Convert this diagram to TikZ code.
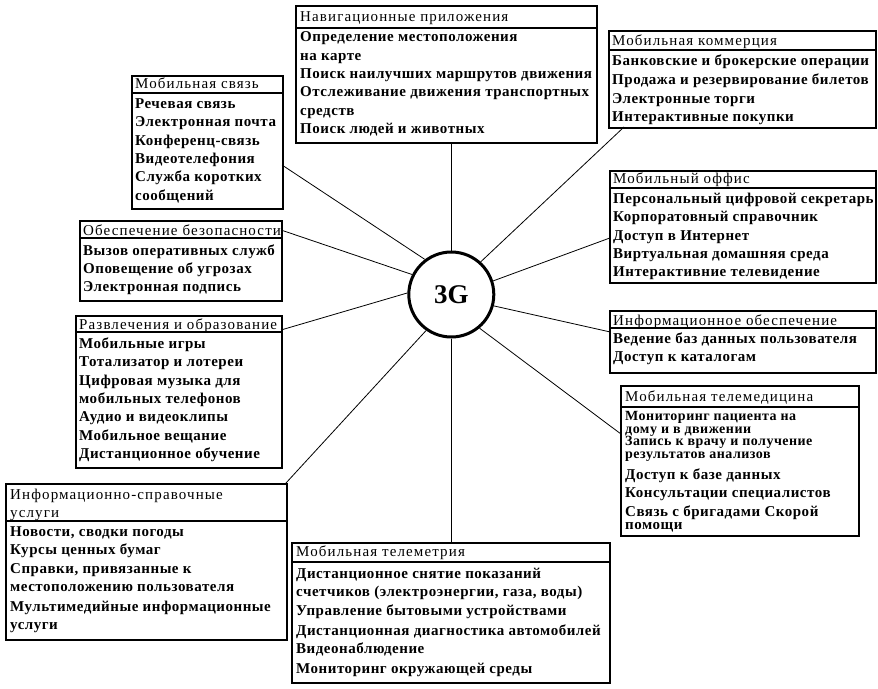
\documentclass[tikz,border=0pt]{standalone}
\usepackage{fontspec}
\setmainfont{Liberation Serif}
\newfontfamily\hdrfont[LetterSpace=7.5]{Liberation Serif}
\newfontfamily\itmfont[LetterSpace=3.5]{Liberation Serif Bold}
\begin{document}
\begin{tikzpicture}[x=1pt,y=-1pt,
  frame/.style={draw,line width=2pt,inner sep=0pt,anchor=north west},
  sepline/.style={line width=2pt},
  hdr/.style={anchor=base west,inner sep=0pt,font=\fontsize{15}{18}\hdrfont},
  itm/.style={anchor=base west,inner sep=0pt,font=\fontsize{15}{18}\itmfont},
  itms/.style={anchor=base west,inner sep=0pt,font=\fontsize{14}{14}\itmfont},
  conn/.style={line width=0.8pt},
  hubst/.style={circle,draw,line width=3pt,minimum size=85pt,inner sep=0pt,font=\fontsize{27}{30}\selectfont\bfseries}]
\useasboundingbox (0,0) rectangle (878,688);
\fill[white] (0,0) rectangle (878,688);

% hub
\node[hubst] (hub) at (451.3,294.5) {3G};

% Navigation
\node[frame,minimum width=301pt,minimum height=136.7pt] (nav) at (295,5) {};
\draw[sepline] (295,28.3) -- (596,28.3);
\node[hdr] (nav-h) at (300,21.7) {Навигационные приложения};
\node[itm] (nav-1) at (300,41.7) {Определение местоположения};
\node[itm] (nav-2) at (300,60) {на карте};
\node[itm] (nav-3) at (300,78.3) {Поиск наилучших маршрутов движения};
\node[itm] (nav-4) at (300,96.7) {Отслеживание движения транспортных};
\node[itm] (nav-5) at (300,115) {средств};
\node[itm] (nav-6) at (300,133.3) {Поиск людей и животных};

% Commerce
\node[frame,minimum width=267pt,minimum height=96.7pt] (com) at (608,30) {};
\draw[sepline] (608,50) -- (875,50);
\node[hdr] (com-h) at (612,45) {Мобильная коммерция};
\node[itm] (com-1) at (612,65) {Банковские и брокерские операции};
\node[itm] (com-2) at (612,84) {Продажа и резервирование билетов};
\node[itm] (com-3) at (612,103) {Электронные торги};
\node[itm] (com-4) at (612,121.7) {Интерактивные покупки};

% Mobile communication
\node[frame,minimum width=151pt,minimum height=133pt] (svz) at (131,75) {};
\draw[sepline] (131,93.3) -- (282,93.3);
\node[hdr] (svz-h) at (135,88.3) {Мобильная связь};
\node[itm] (svz-1) at (135,108.3) {Речевая связь};
\node[itm] (svz-2) at (135,126.7) {Электронная почта};
\node[itm] (svz-3) at (135,145) {Конференц-связь};
\node[itm] (svz-4) at (135,163.3) {Видеотелефония};
\node[itm] (svz-5) at (135,181.7) {Служба коротких};
\node[itm] (svz-6) at (135,200) {сообщений};

% Security
\node[frame,minimum width=202pt,minimum height=80pt] (sec) at (79,220) {};
\draw[sepline] (79,238.3) -- (281,238.3);
\node[hdr] (sec-h) at (83,235) {Обеспечение безопасности};
\node[itm] (sec-1) at (83,255) {Вызов оперативных служб};
\node[itm] (sec-2) at (83,273.3) {Оповещение об угрозах};
\node[itm] (sec-3) at (83,291.7) {Электронная подпись};

% Office
\node[frame,minimum width=266pt,minimum height=112pt] (off) at (609,170) {};
\draw[sepline] (609,188.3) -- (875,188.3);
\node[hdr] (off-h) at (613,183.3) {Мобильный оффис};
\node[itm] (off-1) at (613,203.3) {Персональный цифровой секретарь};
\node[itm] (off-2) at (613,221.7) {Корпоратовный справочник};
\node[itm] (off-3) at (613,240) {Доступ в Интернет};
\node[itm] (off-4) at (613,258.3) {Виртуальная домашняя среда};
\node[itm] (off-5) at (613,276.7) {Интерактивние телевидение};

% Entertainment
\node[frame,minimum width=206pt,minimum height=152pt] (ent) at (75,315) {};
\draw[sepline] (75,331.7) -- (281,331.7);
\node[hdr] (ent-h) at (79,329) {Развлечения и образование};
\node[itm] (ent-1) at (79,348.3) {Мобильные игры};
\node[itm] (ent-2) at (79,366.7) {Тотализатор и лотереи};
\node[itm] (ent-3) at (79,385) {Цифровая музыка для};
\node[itm] (ent-4) at (79,403.3) {мобильных телефонов};
\node[itm] (ent-5) at (79,421.7) {Аудио и видеоклипы};
\node[itm] (ent-6) at (79,440) {Мобильное вещание};
\node[itm] (ent-7) at (79,458.3) {Дистанционное обучение};

% Info support
\node[frame,minimum width=266pt,minimum height=62pt] (inf) at (609,310) {};
\draw[sepline] (609,328.3) -- (875,328.3);
\node[hdr] (inf-h) at (613,325) {Информационное обеспечение};
\node[itm] (inf-1) at (613,343.3) {Ведение баз данных пользователя};
\node[itm] (inf-2) at (613,361.7) {Доступ к каталогам};

% Telemedicine
\node[frame,minimum width=238pt,minimum height=150pt] (med) at (620,385) {};
\draw[sepline] (620,406.7) -- (858,406.7);
\node[hdr] (med-h) at (625,401.5) {Мобильная телемедицина};
\node[itms] (med-1) at (625,420.5) {Мониторинг пациента на};
\node[itms] (med-2) at (625,433.2) {дому и в  движении};
\node[itms] (med-3) at (625,445.9) {Запись к врачу и получение};
\node[itms] (med-4) at (625,458.6) {результатов  анализов};
\node[itm] (med-5) at (625,479) {Доступ к базе данных};
\node[itm] (med-6) at (625,497.5) {Консультации специалистов};
\node[itm] (med-7) at (625,516) {Связь с бригадами Скорой};
\node[itm] (med-8) at (625,529.5) {помощи};

% Info-reference
\node[frame,minimum width=281pt,minimum height=156pt] (ref) at (5,483) {};
\draw[sepline] (5,521) -- (286,521);
\node[hdr] (ref-h1) at (10,499.7) {Информационно-справочные};
\node[hdr] (ref-h2) at (10,517) {услуги};
\node[itm] (ref-1) at (10,536.3) {Новости, сводки погоды};
\node[itm] (ref-2) at (10,554.7) {Курсы ценных бумаг};
\node[itm] (ref-3) at (10,573) {Справки, привязанные к};
\node[itm] (ref-4) at (10,591.3) {местоположению пользователя};
\node[itm] (ref-5) at (10,611.3) {Мультимедийные информационные};
\node[itm] (ref-6) at (10,629.7) {услуги};

% Telemetry
\node[frame,minimum width=318pt,minimum height=140pt] (tel) at (291,542) {};
\draw[sepline] (291,561.7) -- (609,561.7);
\node[hdr] (tel-h) at (296,556.7) {Мобильная телеметрия};
\node[itm] (tel-1) at (296,578.3) {Дистанционное снятие показаний};
\node[itm] (tel-2) at (296,596.7) {счетчиков (электроэнергии, газа, воды)};
\node[itm] (tel-3) at (296,615) {Управление бытовыми устройствами};
\node[itm] (tel-4) at (296,635) {Дистанционная диагностика автомобилей};
\node[itm] (tel-5) at (296,653.3) {Видеонаблюдение};
\node[itm] (tel-6) at (296,673.3) {Мониторинг окружающей среды};

% connector ends on boxes
\coordinate (e-svz) at (282,165);
\coordinate (e-sec) at (281,230);
\coordinate (e-ent) at (281,330);
\coordinate (e-ref) at (286,483);
\coordinate (e-med) at (620,433.3);
\coordinate (e-inf) at (609,331.7);
\coordinate (e-off) at (609,238.3);
\coordinate (e-com) at (624,127);

% connectors
\draw[conn] (hub.north) -- (hub.north |- nav.south);
\draw[conn] (hub.south) -- (hub.south |- tel.north);
\draw[conn] (e-svz) -- (hub.127.8);
\draw[conn] (e-sec) -- (hub.153.8);
\draw[conn] (e-ent) -- (hub.178.4);
\draw[conn] (e-ref) -- (hub.235.8);
\draw[conn] (e-med) -- (hub.310.2);
\draw[conn] (e-inf) -- (hub.345.6);
\draw[conn] (e-off) -- (hub.18.4);
\draw[conn] (e-com) -- (hub.48.6);
\end{tikzpicture}
\end{document}
